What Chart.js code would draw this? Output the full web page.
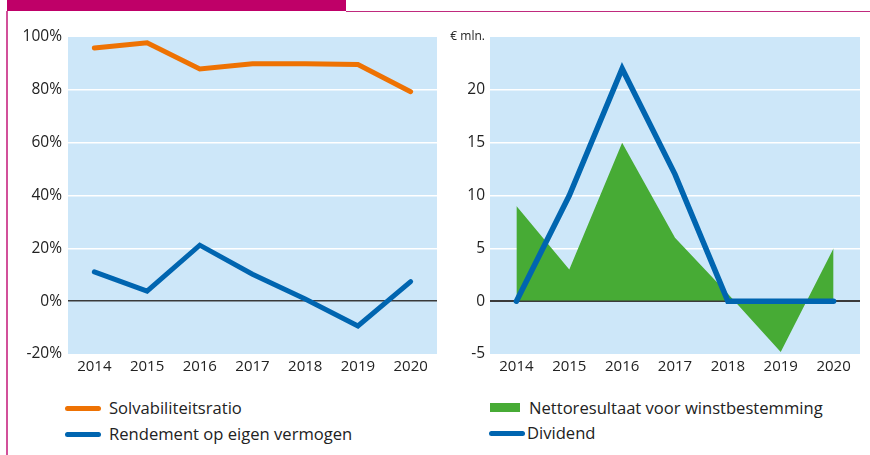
<!DOCTYPE html>
<html>
<head>
<meta charset="utf-8">
<script src="https://cdn.jsdelivr.net/npm/chart.js@4/dist/chart.umd.min.js"></script>
<style>
  html, body { margin: 0; padding: 0; background: #fff; }
  body { width: 870px; height: 455px; position: relative; overflow: hidden; font-family: "Open Sans", sans-serif; color: #222; }
  .bar { position: absolute; left: 7px; top: 0; width: 339px; height: 11px; background: #bf0068; }
  .vline { position: absolute; left: 6px; top: 11px; width: 2px; height: 444px; background: #d2509a; }
  .hline { position: absolute; left: 346px; top: 11px; width: 524px; height: 1px; background: #c02a7e; }
  .wrap { position: absolute; top: 0; }
  #left { left: 0; width: 440px; height: 390px; }
  #right { left: 440px; width: 430px; height: 390px; }
  .legend { position: absolute; font-size: 16.6px; line-height: 20px; white-space: nowrap; }
  .item { position: absolute; left: 0; }
  .sw-line { position: absolute; height: 5px; border-radius: 3px; }
  .sw-box { position: absolute; height: 9px; }
</style>
</head>
<body>
<div class="bar"></div>
<div class="vline"></div>
<div class="hline"></div>

<div class="wrap" id="left"><canvas id="c1" width="440" height="390"></canvas></div>
<div class="wrap" id="right"><canvas id="c2" width="430" height="390"></canvas></div>

<div class="legend" style="left:65px; top:398px;">
  <div class="item" style="top:0"><span class="sw-line" style="left:0; top:8px; width:36px; background:#ee7203"></span><span style="position:absolute; left:44px; top:0">Solvabiliteitsratio</span></div>
  <div class="item" style="top:26px"><span class="sw-line" style="left:0; top:8px; width:36px; background:#0065b0"></span><span style="position:absolute; left:44px; top:0">Rendement op eigen vermogen</span></div>
</div>
<div class="legend" style="left:489px; top:398px;">
  <div class="item" style="top:0"><span class="sw-box" style="left:1px; top:5px; width:30px; background:#47ab35"></span><span style="position:absolute; left:40px; top:0">Nettoresultaat voor winstbestemming</span></div>
  <div class="item" style="top:25px"><span class="sw-line" style="left:0; top:8px; width:36px; background:#0065b0"></span><span style="position:absolute; left:38px; top:0">Dividend</span></div>
</div>

<script>
// Years on the horizontal axis
const years = ['2014', '2015', '2016', '2017', '2018', '2019', '2020'];

// Left panel: percentages
const solvabiliteit = [95.8, 97.8, 87.9, 89.9, 89.9, 89.6, 79.3];
const rendement = [11.1, 3.8, 21.2, 10.2, 0.8, -9.4, 7.4];

// Right panel: € mln.
const nettoresultaat = [9.0, 3.0, 15.0, 6.0, 0.7, -4.8, 5.0];
const dividend = [0, 10, 22, 12, 0, 0, 0];

const FONT = '"Open Sans", sans-serif';
const TEXT = '#222';
const PANEL_BG = '#cde7f9';

// Light blue panel behind the plot area
const panelBackground = {
  id: 'panelBackground',
  beforeDraw(chart) {
    const a = chart.chartArea, ctx = chart.ctx;
    ctx.save();
    ctx.fillStyle = PANEL_BG;
    ctx.fillRect(a.left, a.top, a.right - a.left, a.bottom - a.top);
    ctx.restore();
  }
};

function gridColor(lo, hi) {
  return ctx => {
    const v = ctx.tick ? ctx.tick.value : null;
    if (v === 0) return '#3a3a3a';
    if (v === lo || v === hi) return 'rgba(0,0,0,0)';
    return '#ffffff';
  };
}

function xScale() {
  return {
    offset: true,
    grid: { display: false, drawTicks: false },
    border: { display: false },
    ticks: { color: TEXT, font: { family: FONT, size: 15 }, padding: 4, maxRotation: 0 },
    afterFit(s) { s.height = 36; }
  };
}

new Chart(document.getElementById('c1'), {
  type: 'line',
  data: {
    labels: years,
    datasets: [
      { label: 'Solvabiliteitsratio', data: solvabiliteit, borderColor: '#ee7203', borderWidth: 5,
        borderCapStyle: 'round', borderJoinStyle: 'miter', pointRadius: 0, fill: false, tension: 0 },
      { label: 'Rendement op eigen vermogen', data: rendement, borderColor: '#0065b0', borderWidth: 5,
        borderCapStyle: 'round', borderJoinStyle: 'miter', pointRadius: 0, fill: false, tension: 0 }
    ]
  },
  options: {
    responsive: false,
    animation: false,
    layout: { padding: { left: 0, right: 3, top: 37, bottom: 0 } },
    plugins: { legend: { display: false }, tooltip: { enabled: false } },
    scales: {
      x: xScale(),
      y: {
        min: -20, max: 100,
        grid: { color: gridColor(-20, 100), lineWidth: 1.5, drawTicks: false },
        border: { display: false },
        ticks: { stepSize: 20, color: TEXT, font: { family: FONT, size: 15.5 }, padding: 6,
                 callback: v => v + '%' },
        afterFit(s) { s.width = 68; }
      }
    }
  },
  plugins: [panelBackground]
});

// Zero line drawn over the green area but beneath the dividend line
const zeroOverFill = {
  id: 'zeroOverFill',
  afterDatasetDraw(chart, args) {
    if (chart.data.datasets[args.index].label !== 'Nettoresultaat voor winstbestemming') return;
    const a = chart.chartArea, y = chart.scales.y.getPixelForValue(0), ctx = chart.ctx;
    ctx.save();
    ctx.strokeStyle = '#3a3a3a';
    ctx.lineWidth = 1.5;
    ctx.beginPath();
    ctx.moveTo(a.left, y);
    ctx.lineTo(a.right, y);
    ctx.stroke();
    ctx.restore();
  }
};

new Chart(document.getElementById('c2'), {
  type: 'line',
  data: {
    labels: years,
    datasets: [
      { label: 'Dividend', data: dividend, borderColor: '#0065b0', borderWidth: 5.5,
        borderCapStyle: 'round', borderJoinStyle: 'miter', pointRadius: 0, fill: false, tension: 0, order: 0 },
      { label: 'Nettoresultaat voor winstbestemming', data: nettoresultaat, borderWidth: 0,
        borderColor: 'rgba(0,0,0,0)', backgroundColor: '#47ab35', pointRadius: 0, fill: 'origin', tension: 0, order: 1 }
    ]
  },
  options: {
    responsive: false,
    animation: false,
    layout: { padding: { left: 0, right: 10, top: 37, bottom: 0 } },
    plugins: { legend: { display: false }, tooltip: { enabled: false } },
    scales: {
      x: xScale(),
      y: {
        min: -5, max: 25,
        grid: { color: gridColor(-5, 25), lineWidth: 1.5, drawTicks: false },
        border: { display: false },
        ticks: {
          stepSize: 5, color: TEXT, padding: 5,
          font: ctx => ({ family: FONT, size: ctx.tick && ctx.tick.value === 25 ? 12 : 15.5 }),
          callback: v => (v === 25 ? '€ mln.' : String(v))
        },
        afterFit(s) { s.width = 50; }
      }
    }
  },
  plugins: [panelBackground, zeroOverFill]
});
</script>
</body>
</html>
